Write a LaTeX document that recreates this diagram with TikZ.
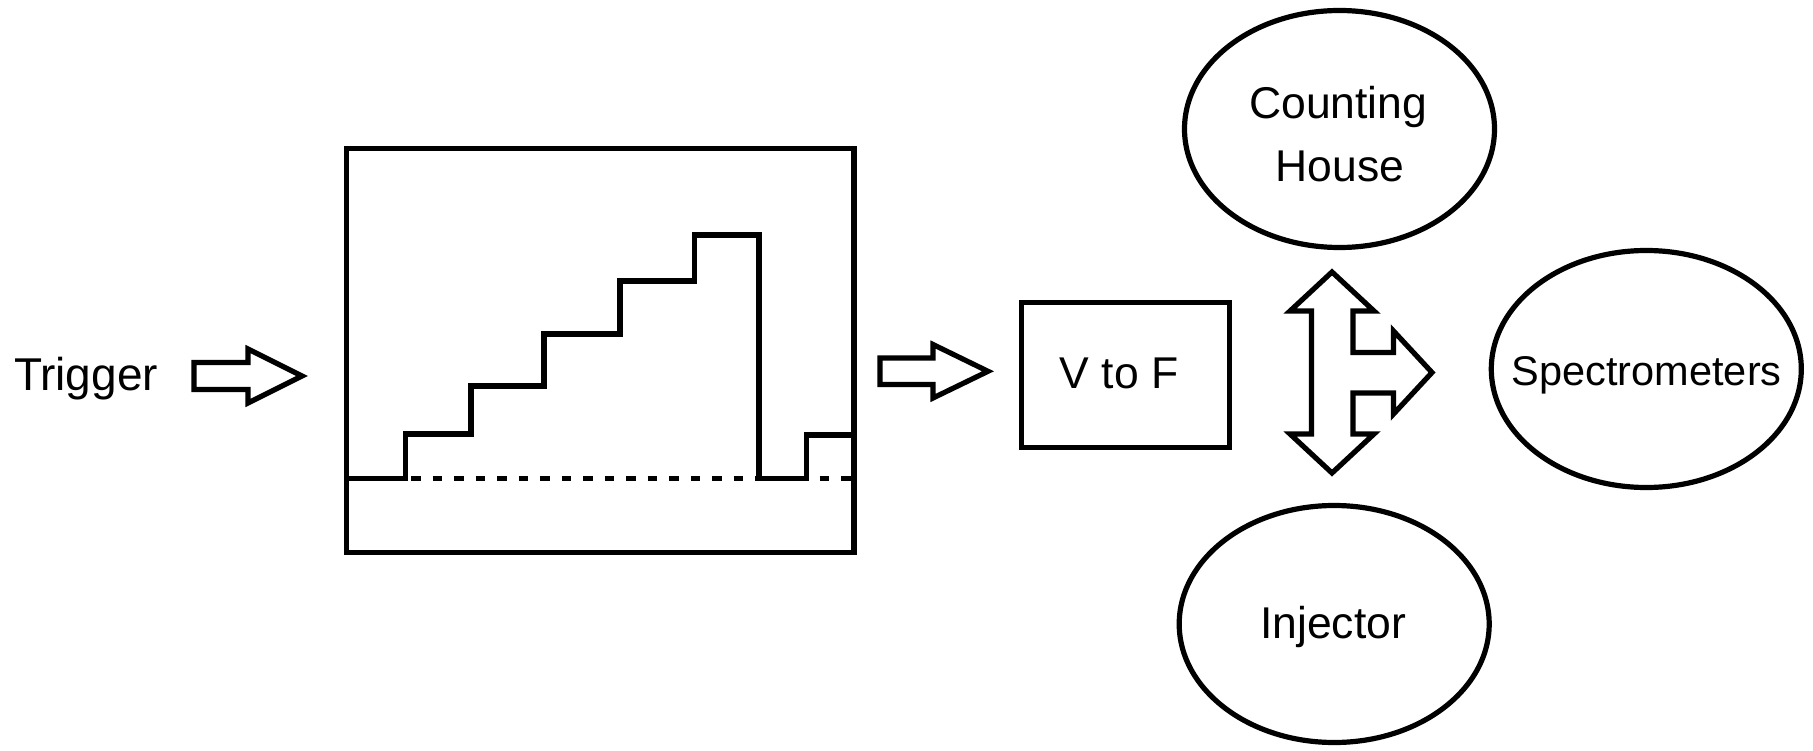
\documentclass[tikz,border=0pt]{standalone}
\usepackage{fontspec}
\setmainfont{Liberation Sans}
\usetikzlibrary{shapes.geometric}
\begin{document}
\begin{tikzpicture}[x=1pt, y=-1pt,
  outline/.style={draw=black, line width=5.2pt, line join=miter},
  lbl/.style={inner sep=0pt, anchor=base, font=\fontsize{44.5}{52}\selectfont},
  bubble/.style={ellipse, draw, line width=5.2pt, minimum width=310pt,
                 minimum height=237pt, inner sep=0pt},
  panel/.style={draw, line width=5.2pt, inner sep=0pt},
  baseline dash/.style={line width=5.2pt, dash pattern=on 9.5pt off 12pt}]
\useasboundingbox (0,0) rectangle (1813,751);

% trigger input
\node[lbl, font=\fontsize{46}{52}\selectfont] (trig) at (86,390.7) {Trigger};
\draw[outline] (194,362.6) -- (248,362.6) -- (248,349) -- (302,376)
  -- (248,403) -- (248,389.4) -- (194,389.4) -- cycle;

% scope screen with staircase trace
\node[panel, minimum width=507.5pt, minimum height=404.1pt] (screen) at (600.25,350.25) {};
\draw[baseline dash] (346.5,478.3) -- (854,478.3);
\draw[outline] (346.5,478.3) -- (405.8,478.3) -- (405.8,434) -- (471,434)
  -- (471,386) -- (544,386) -- (544,334) -- (620,334) -- (620,281)
  -- (694.3,281) -- (694.3,235) -- (759,235) -- (759,478.3)
  -- (806.7,478.3) -- (806.7,435) -- (854,435);

% output to converter
\draw[outline] (880,358) -- (933,358) -- (933,344.5) -- (988,371.3)
  -- (933,398) -- (933,384.5) -- (880,384.5) -- cycle;

% voltage to frequency converter
\node[panel, minimum width=207.4pt, minimum height=145pt] (vtof) at (1125.5,375) {};
\node[lbl] (vtoftext) at (1119.2,388.3) {V to F};

% three-way distribution arrow
\draw[outline] (1332,272) -- (1374,311) -- (1353,311) -- (1353,352.5)
  -- (1393.5,352.5) -- (1393.5,331) -- (1432,372.5) -- (1393.5,414)
  -- (1393.5,393) -- (1353,393) -- (1353,434) -- (1374,434) -- (1332,473)
  -- (1290,434) -- (1311.5,434) -- (1311.5,311) -- (1290,311) -- cycle;

% destinations
\node[bubble] (house) at (1339.5,129) {};
\node[lbl] (houseA) at (1338.2,118.3) {Counting};
\node[lbl] (houseB) at (1339.8,181.7) {House};

\node[bubble] (spec) at (1646.3,369) {};
\node[lbl, font=\fontsize{41.5}{50}\selectfont] (spectext) at (1646.7,385.7) {Spectrometers};

\node[bubble] (inj) at (1334.2,624) {};
\node[lbl] (injtext) at (1333,638.3) {Injector};
\end{tikzpicture}
\end{document}
